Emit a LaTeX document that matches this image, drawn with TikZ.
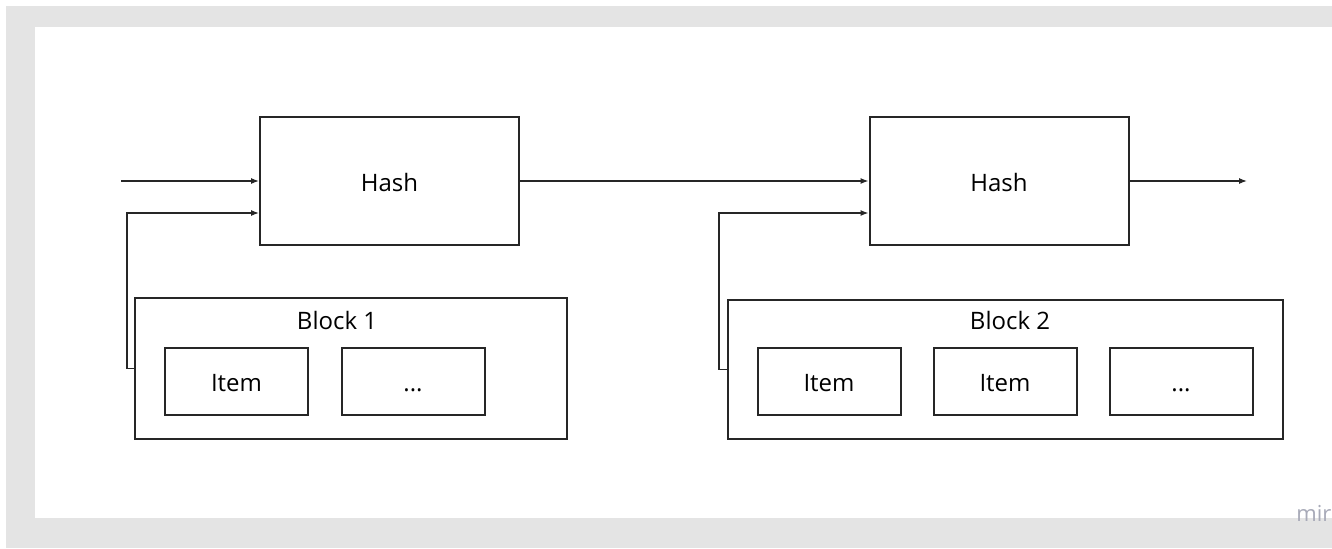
\documentclass[tikz,border=0pt]{standalone}
\usepackage{fontspec}
\setmainfont{Open Sans}
\usetikzlibrary{arrows.meta}
\definecolor{framegray}{HTML}{E4E4E4}
\definecolor{mirogray}{HTML}{A8AAB8}

\begin{document}
\begin{tikzpicture}[x=0.5pt,y=-0.5pt,>={Latex[length=4pt,width=3pt]},font=\fontsize{12pt}{14pt}\selectfont]
  \tikzstyle{box}=[draw=black!85,line width=1pt,inner sep=0pt,text height=10pt,text depth=0pt]
  \tikzstyle{hash}=[box,minimum width=129.5pt,minimum height=64pt]
  \tikzstyle{item}=[box,minimum width=71.5pt,minimum height=33.5pt]
  \tikzstyle{wire}=[->,line width=0.6pt,black!85]
  \useasboundingbox (0,0) rectangle (1332,548);
  \fill[framegray] (6,6) rectangle (1332,548);
  \fill[white] (35,27) rectangle (1332,518);
  % hashes
  \node[hash] (h1) at (389.5,181) {Hash};
  \node[hash] (h2) at (999,181) {Hash};
  % blocks
  \node[box,minimum width=216pt,minimum height=70.5pt] (b1) at (351,368.5) {};
  \node (b1label) at (337,320) {Block 1};
  \node[item] (b1i1) at (236.5,381.5) {Item};
  \node[item] (b1i2) at (413,381.5) {...};
  \node[box,minimum width=277.5pt,minimum height=69.5pt] (b2) at (1005.5,369.5) {};
  \node (b2label) at (1010,320) {Block 2};
  \node[item] (b2i1) at (829,381.5) {Item};
  \node[item] (b2i2) at (1005,381.5) {Item};
  \node[item] (b2i3) at (1181,381.5) {...};
  % wires
  \coordinate (in) at (121,181);
  \coordinate (out) at (1247,181);
  \draw[wire] (in) -- (h1.west);
  \draw[wire] (h1.east) -- (h2.west);
  \draw[wire] (h2.east) -- (out);
  \draw[wire] (b1.west) -- ++(-7,0) |- ([yshift=-16pt]h1.west);
  \draw[wire] (b2.west) -- ++(-8,0) |- ([yshift=-16pt]h2.west);
  \begin{scope}
    \clip (0,0) rectangle (1332,548);
    \node[text=mirogray,anchor=base west,inner sep=0pt,font=\fontsize{11pt}{13pt}\selectfont] (miro) at (1296,521) {miro};
  \end{scope}
\end{tikzpicture}
\end{document}
